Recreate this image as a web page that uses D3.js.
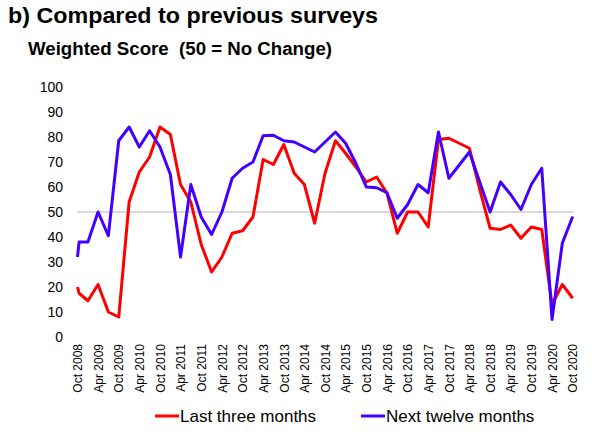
<!DOCTYPE html>
<html>
<head>
<meta charset="utf-8">
<script src="https://cdn.jsdelivr.net/npm/d3@7"></script>
<style>
  html, body { margin: 0; padding: 0; background: #fff; }
  svg { display: block; font-family: "Liberation Sans", Arial, Helvetica, sans-serif; }
</style>
</head>
<body>
<svg id="chart" width="600" height="434"></svg>
<script>
// ---- data ----
const dates = [
  "2008-10-01","2008-10-15","2009-01-01","2009-04-01","2009-07-01","2009-10-01",
  "2010-01-01","2010-04-01","2010-07-01","2010-10-01",
  "2011-01-01","2011-04-01","2011-07-01","2011-10-01",
  "2012-01-01","2012-04-01","2012-07-01","2012-10-01",
  "2013-01-01","2013-04-01","2013-07-01","2013-10-01",
  "2014-01-01","2014-04-01","2014-07-01","2014-10-01",
  "2015-01-01","2015-04-01","2015-07-01","2015-10-01",
  "2016-01-01","2016-04-01","2016-07-01","2016-10-01",
  "2017-01-01","2017-04-01","2017-07-01","2017-10-01",
  "2018-01-01","2018-04-01","2018-07-01","2018-10-01",
  "2019-01-01","2019-04-01","2019-07-01","2019-10-01",
  "2020-01-01","2020-04-01","2020-07-01","2020-10-01"
];
const lastThreeMonths = [
  20, 17.5, 14.5, 21, 10, 8,
  54, 66, 72, 84,
  81, 61, 54, 37,
  26, 32, 41.5, 42.5,
  48, 71, 69, 77,
  65.5, 61, 45.5, 65.5,
  78.5, 73.5, 68, 62,
  64, 57.5, 41.5, 50,
  50, 44, 79, 79.5,
  77.5, 75.5, 59, 43.5,
  43, 44.8, 39.5, 44,
  43, 13, 21, 15.5
];
const nextTwelveMonths = [
  32, 38, 38, 50, 40.5, 78.5,
  84, 76, 82.5, 76,
  65, 32, 61, 48,
  41, 50, 63.5, 67.5,
  70, 80.5, 80.7, 78.5,
  78, 76, 74, 78,
  82, 77.5, 69.5, 60,
  59.7, 57.7, 47.5, 53,
  61, 57.7, 82, 63.5,
  68.8, 74, 62, 50,
  62, 57, 51, 61,
  67.5, 7, 37.5, 48.2
];
const yTicks = [0, 10, 20, 30, 40, 50, 60, 70, 80, 90, 100];
const xTickDates = [
  "2008-10-01","2009-04-01","2009-10-01","2010-04-01","2010-10-01","2011-04-01",
  "2011-10-01","2012-04-01","2012-10-01","2013-04-01","2013-10-01","2014-04-01",
  "2014-10-01","2015-04-01","2015-10-01","2016-04-01","2016-10-01","2017-04-01",
  "2017-10-01","2018-04-01","2018-10-01","2019-04-01","2019-10-01","2020-04-01",
  "2020-10-01"
];
const seriesNames = ["Last three months", "Next twelve months"];
const seriesColors = ["#ff0000", "#4400ff"];
const title = "b) Compared to previous surveys";
const subtitle = "Weighted Score  (50 = No Change)";

// ---- chart ----
const parse = d3.timeParse("%Y-%m-%d");
const svg = d3.select("#chart");

const x = d3.scaleTime()
  .domain([parse("2008-10-01"), parse("2020-10-01")])
  .range([77.5, 572.7]);
const y = d3.scaleLinear().domain([0, 100]).range([337, 87]);

svg.append("text").attr("x", 8).attr("y", 22.5)
  .attr("font-size", 21.5).attr("font-weight", "bold").attr("fill", "#000")
  .attr("textLength", 370).attr("lengthAdjust", "spacingAndGlyphs")
  .text(title);
svg.append("text").attr("x", 28).attr("y", 55)
  .attr("font-size", 17.5).attr("font-weight", "bold").attr("fill", "#000")
  .style("white-space", "pre")
  .attr("textLength", 304).attr("lengthAdjust", "spacingAndGlyphs")
  .text(subtitle);

// y axis labels
const yAxis = d3.axisLeft(y).tickValues(yTicks).tickSize(0).tickPadding(0);
const gy = svg.append("g").attr("transform", "translate(63,0)").call(yAxis);
gy.select(".domain").remove();
gy.selectAll("text").attr("font-size", 14).attr("fill", "#000")
  .attr("font-family", "'Liberation Sans', Arial, sans-serif");

// 50 reference line
svg.append("line")
  .attr("x1", 76.7).attr("x2", 574)
  .attr("y1", y(50)).attr("y2", y(50))
  .attr("stroke", "#b4b4b4").attr("stroke-width", 1.2);

// x axis labels
const xAxis = d3.axisBottom(x)
  .tickValues(xTickDates.map(parse))
  .tickFormat(d3.timeFormat("%b %Y"))
  .tickSize(0).tickPadding(0);
const gx = svg.append("g").attr("transform", "translate(0,344)").call(xAxis);
gx.select(".domain").remove();
gx.selectAll("text")
  .attr("font-size", 12).attr("fill", "#000")
  .attr("font-family", "'Liberation Sans', Arial, sans-serif")
  .attr("text-anchor", "end")
  .attr("transform", "rotate(-90)")
  .attr("x", 0).attr("y", 0).attr("dy", "0.35em");

// lines
const seriesData = [lastThreeMonths, nextTwelveMonths];
const line = d3.line()
  .x((d, i) => x(parse(dates[i])))
  .y(d => y(d));
seriesData.forEach((vals, k) => {
  svg.append("path")
    .datum(vals)
    .attr("d", line)
    .attr("fill", "none")
    .attr("stroke", seriesColors[k])
    .attr("stroke-width", 3)
    .attr("stroke-linejoin", "round");
});

// legend
const legendX = [155, 361];
seriesNames.forEach((name, k) => {
  const g = svg.append("g").attr("transform", `translate(${legendX[k]},416)`);
  g.append("line").attr("x1", 0).attr("x2", 24).attr("y1", 0).attr("y2", 0)
    .attr("stroke", seriesColors[k]).attr("stroke-width", 3);
  g.append("text").attr("x", 25).attr("y", 0).attr("dy", "0.35em")
    .attr("font-size", 17).attr("fill", "#000").text(name);
});
</script>
</body>
</html>
